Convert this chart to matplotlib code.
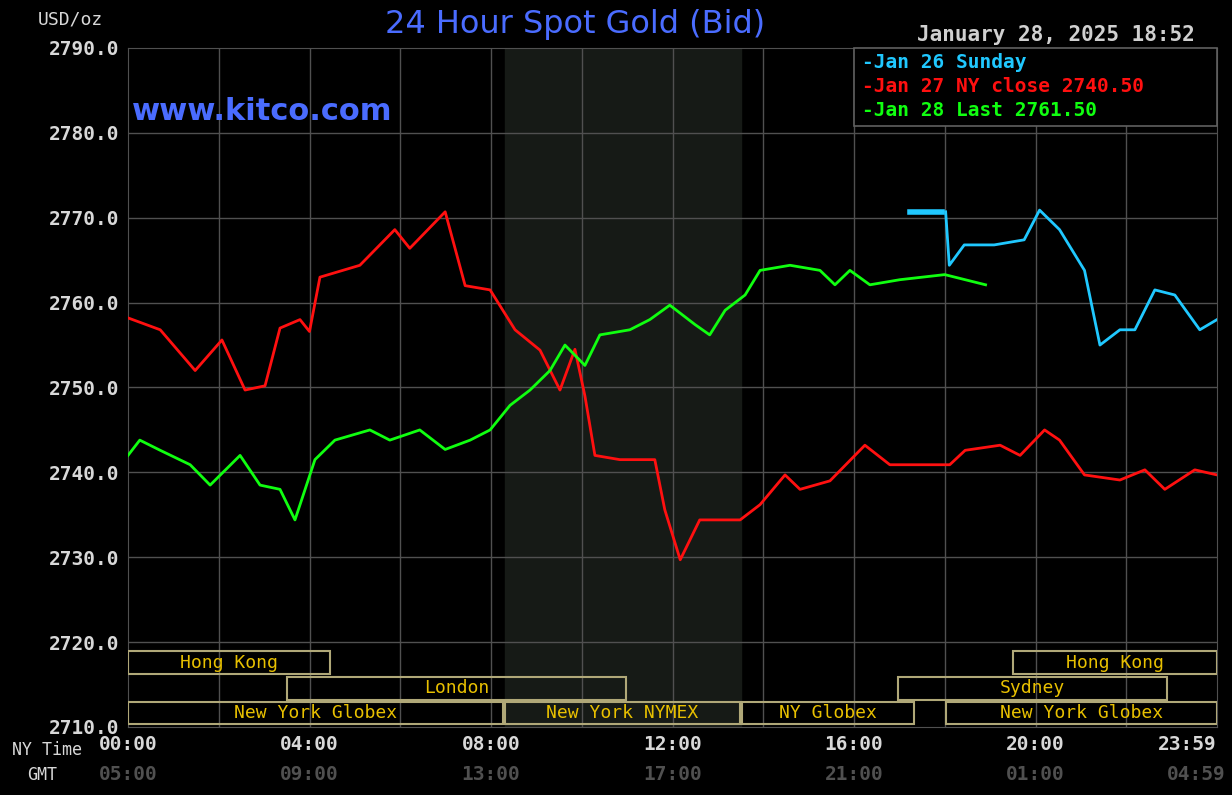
import matplotlib
matplotlib.use("Agg")
import matplotlib.pyplot as plt
import numpy as np

# hours (NY time) and prices
red_h = [0.0,0.71,1.48,2.07,2.58,3.02,3.35,3.79,4.0,4.23,5.11,5.88,6.21,6.99,7.43,7.98,8.53,9.08,9.52,9.85,10.07,10.29,10.84,11.61,11.83,12.17,12.6,13.49,13.93,14.48,14.81,15.47,16.24,16.79,18.11,18.45,19.22,19.66,20.2,20.53,21.08,21.86,22.41,22.85,23.51,24.0]
red_v = [2758.2,2756.8,2752.0,2755.6,2749.7,2750.2,2757.0,2758.0,2756.6,2763.0,2764.4,2768.6,2766.4,2770.7,2762.0,2761.5,2756.8,2754.4,2749.7,2754.5,2749.0,2742.0,2741.5,2741.5,2735.6,2729.7,2734.4,2734.4,2736.2,2739.7,2738.0,2739.0,2743.2,2740.9,2740.9,2742.6,2743.2,2742.0,2745.0,2743.8,2739.7,2739.1,2740.3,2738.0,2740.3,2739.7]
green_h = [0.0,0.26,0.71,1.37,1.81,2.47,2.91,3.35,3.68,4.12,4.56,5.33,5.77,6.43,6.99,7.54,7.98,8.42,8.86,9.3,9.63,10.07,10.4,11.06,11.5,11.94,12.5,12.82,13.16,13.6,13.93,14.59,15.25,15.58,15.91,16.35,17.01,18.0,18.9]
green_v = [2742.0,2743.8,2742.6,2740.9,2738.5,2742.0,2738.5,2738.0,2734.4,2741.5,2743.8,2745.0,2743.8,2745.0,2742.7,2743.8,2745.0,2747.9,2749.7,2752.0,2755.0,2752.6,2756.2,2756.8,2758.0,2759.7,2757.4,2756.2,2759.1,2760.9,2763.8,2764.4,2763.8,2762.1,2763.8,2762.1,2762.7,2763.3,2762.1]
cyan_h = [18.02,18.1,18.43,19.09,19.75,20.09,20.53,21.08,21.42,21.86,22.19,22.63,23.07,23.62,24.0]
cyan_v = [2770.7,2764.4,2766.8,2766.8,2767.4,2770.9,2768.6,2763.8,2755.0,2756.8,2756.8,2761.5,2760.9,2756.8,2758.0]
cyan_flat_h = [17.23,17.95]
cyan_flat_v = [2770.7,2770.7]

sessions = [  # (label, start, end, row)
    ("Hong Kong", 0.0, 4.45, 0), ("London", 3.5, 10.97, 1), ("New York Globex", 0.0, 8.26, 2),
    ("New York NYMEX", 8.3, 13.49, 2), ("NY Globex", 13.53, 17.32, 2),
    ("Hong Kong", 19.5, 24.0, 0), ("Sydney", 16.97, 22.9, 1), ("New York Globex", 18.02, 24.0, 2)]
rows = [(2716.2, 2718.9), (2713.2, 2715.9), (2710.3, 2713.0)]
xticks = [0, 4, 8, 12, 16, 20, 24]
xlabels = ["00:00", "04:00", "08:00", "12:00", "16:00", "20:00", "23:59"]
gmtlabels = ["05:00", "09:00", "13:00", "17:00", "21:00", "01:00", "04:59"]

mono = "DejaVu Sans Mono"
fig = plt.figure(figsize=(12.32, 7.95), dpi=100, facecolor="black")
ax = fig.add_axes([128/1232, 68/795, 1089/1232, 679/795], facecolor="black")
ax.set_xlim(0, 24); ax.set_ylim(2710, 2790)
ax.axvspan(8.3, 13.5, color="#161a16", zorder=0)
for h in range(2, 24, 2):
    ax.axvline(h, color="#505050", lw=1, zorder=1)
for v in range(2720, 2790, 10):
    ax.axhline(v, color="#505050", lw=1, zorder=1)
for s in ax.spines.values():
    s.set_color("#505050")
ax.set_yticks(range(2710, 2791, 10))
ax.set_yticklabels([f"{v}.0" for v in range(2710, 2791, 10)], fontfamily=mono, fontweight="bold", fontsize=14, color="#d8d8d8")
ax.set_xticks(xticks)
ax.set_xticklabels(xlabels, fontfamily=mono, fontweight="bold", fontsize=14, color="#d8d8d8")
ax.get_xticklabels()[-1].set_horizontalalignment("right")
ax.get_xticklabels()[-1].set_x(24.2)
ax.tick_params(length=0, pad=6)
for i, (h, g) in enumerate(zip(xticks, gmtlabels)):
    ax.text(h + (0.2 if i == 6 else 0), -0.07, g, transform=ax.get_xaxis_transform(),
            ha="right" if i == 6 else "center", va="center",
            fontfamily=mono, fontweight="bold", fontsize=14, color="#505050")
fig.text(47/1232, 1 - 750/795, "NY Time", ha="center", va="center", fontfamily=mono, fontsize=12, color="#d8d8d8")
fig.text(42/1232, 1 - 775/795, "GMT", ha="center", va="center", fontfamily=mono, fontsize=12, color="#d8d8d8")

for lab, a, b, r in sessions:
    y0, y1 = rows[r]
    ax.add_patch(plt.Rectangle((a, y0), b - a, y1 - y0, fill=False, ec="#b0a878", lw=1.5, zorder=3))
    ax.text((a + b) / 2, (y0 + y1) / 2, lab, ha="center", va="center", fontfamily=mono, fontsize=13, color="#e8c000", zorder=4)

ax.plot(red_h, red_v, color="#ff1010", lw=2, zorder=5)
ax.plot(green_h, green_v, color="#10ff10", lw=2, zorder=5)
ax.plot(cyan_h, cyan_v, color="#20c8ff", lw=2, zorder=5)
ax.plot(cyan_flat_h, cyan_flat_v, color="#20c8ff", lw=4, zorder=5)

fig.text(575/1232, 1 - 25/795, "24 Hour Spot Gold (Bid)", ha="center", va="center",
         fontsize=23, color="#4a6cff", fontfamily="DejaVu Sans")
fig.text(70/1232, 1 - 20/795, "USD/oz", ha="center", va="center", fontfamily=mono, fontsize=13, color="#d8d8d8")
fig.text(1195/1232, 1 - 35/795, "January 28, 2025 18:52", ha="right", va="center", fontfamily=mono, fontweight="bold", fontsize=15, color="#d0d0d0")
ax.text(0.004, 2782.5, "www.kitco.com", ha="left", va="center", transform=ax.get_yaxis_transform(),
        fontsize=22, fontweight="bold", color="#4a6cff", fontfamily="DejaVu Sans")
fig.patches.append(plt.Rectangle((854/1232, 1 - 126/795), (1217 - 854)/1232, 78/795, transform=fig.transFigure,
                                 fill=True, fc="black", ec="#606060", lw=1.2, zorder=10))
leg = [("Jan 26 Sunday", "#20c8ff"), ("Jan 27 NY close 2740.50", "#ff1010"), ("Jan 28 Last 2761.50", "#10ff10")]
for i, (t, c) in enumerate(leg):
    fig.text(862/1232, 1 - (62 + i * 24)/795, "-" + t, ha="left", va="center", fontfamily=mono, fontweight="bold", fontsize=14, color=c, zorder=11)
fig.savefig("out.png", dpi=100, facecolor="black")
